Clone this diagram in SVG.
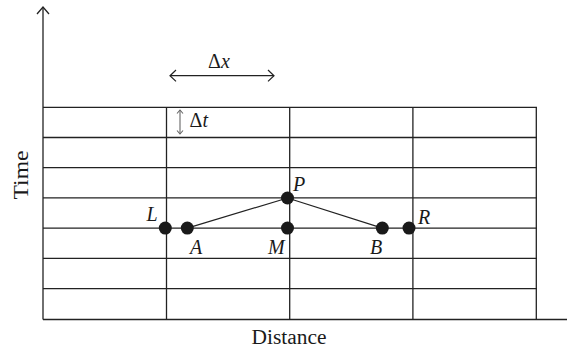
<svg xmlns="http://www.w3.org/2000/svg" width="567" height="351" viewBox="0 0 567 351">
<style>
.g{stroke:#222;stroke-width:1.3;fill:none}
.c{stroke:#222;stroke-width:1.2;fill:none}
.pt{fill:#1a1a1a}
.lbl{font-family:"Liberation Serif","Times New Roman",serif;font-size:20px;font-style:italic;fill:#1a1a1a}
.ax{font-family:"Liberation Serif","Times New Roman",serif;font-size:20px;fill:#1a1a1a}
</style>
<rect width="567" height="351" fill="#fff"/>
<g id="axes" class="g">
<line x1="43" y1="7" x2="43" y2="319.5"/>
<polyline points="37,14 43,7 49,14"/>
<line x1="43" y1="319.5" x2="567" y2="319.5"/>
</g>
<g id="grid" class="g">
<line x1="43" y1="107.3" x2="537" y2="107.3"/>
<line x1="43" y1="137.5" x2="537" y2="137.5"/>
<line x1="43" y1="167.7" x2="537" y2="167.7"/>
<line x1="43" y1="197.9" x2="537" y2="197.9"/>
<line x1="43" y1="228.1" x2="537" y2="228.1"/>
<line x1="43" y1="258.4" x2="537" y2="258.4"/>
<line x1="43" y1="288.7" x2="537" y2="288.7"/>
<line x1="166.5" y1="107.3" x2="166.5" y2="319.5"/>
<line x1="289.7" y1="107.3" x2="289.7" y2="319.5"/>
<line x1="412.9" y1="107.3" x2="412.9" y2="319.5"/>
<line x1="536.3" y1="107.3" x2="536.3" y2="319.5"/>
</g>
<g id="dx">
<g class="c">
<line x1="170" y1="75.7" x2="274" y2="75.7"/>
<polyline points="176,70 170,75.7 176,81.4"/>
<polyline points="268,70 274,75.7 268,81.4"/>
</g>
<text x="208" y="68" class="ax">Δ<tspan font-style="italic">x</tspan></text>
</g>
<g id="dt">
<g stroke="#666" stroke-width="1.1" fill="none">
<line x1="180" y1="110" x2="180" y2="134"/>
<polyline points="177,113.5 180,110 183,113.5"/>
<polyline points="177,130.5 180,134 183,130.5"/>
</g>
<text x="189.5" y="127" class="ax">Δ<tspan font-style="italic">t</tspan></text>
</g>
<g id="connectors" class="c">
<line x1="187.3" y1="228.1" x2="287.5" y2="198"/>
<line x1="287.5" y1="198" x2="382.3" y2="228.1"/>
</g>
<g id="L"><circle class="pt" cx="165.3" cy="228.1" r="6.5"/><text x="146.5" y="221" class="lbl">L</text></g>
<g id="A"><circle class="pt" cx="187.3" cy="228.1" r="6.5"/><text x="190" y="254" class="lbl">A</text></g>
<g id="M"><circle class="pt" cx="287.5" cy="228.1" r="6.5"/><text x="268" y="254" class="lbl">M</text></g>
<g id="P"><circle class="pt" cx="287.5" cy="198" r="6.5"/><text x="293" y="190.5" class="lbl">P</text></g>
<g id="B"><circle class="pt" cx="382.3" cy="228.1" r="6.5"/><text x="370" y="254" class="lbl">B</text></g>
<g id="R"><circle class="pt" cx="409" cy="228.1" r="6.5"/><text x="418" y="223.5" class="lbl">R</text></g>
<text x="289" y="344" class="ax" text-anchor="middle" textLength="75" lengthAdjust="spacingAndGlyphs">Distance</text>
<text transform="translate(28,175) rotate(-90)" class="ax" text-anchor="middle" textLength="49" lengthAdjust="spacingAndGlyphs" fill="#1a1a1a">Time</text>
</svg>
